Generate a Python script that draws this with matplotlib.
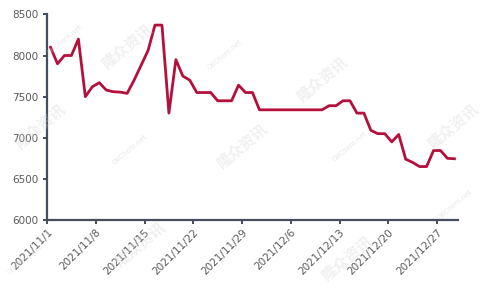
import matplotlib
matplotlib.use("Agg")
import matplotlib.pyplot as plt
import pandas as pd
import numpy as np

plt.rcParams['font.family'] = ['DejaVu Sans', 'Noto Sans CJK SC']

# daily prices, 2021/11/1 - 2021/12/29
start = "2021-11-01"
prices = [8100, 7900, 8000, 8000, 8200, 7500, 7620, 7670, 7580, 7560,
          7555, 7540, 7700, 7880, 8060, 8370, 8370, 7300, 7950, 7750,
          7700, 7550, 7550, 7550, 7450, 7450, 7450, 7640, 7550, 7550,
          7340, 7340, 7340, 7340, 7340, 7340, 7340, 7340, 7340, 7340,
          7390, 7390, 7450, 7450, 7300, 7300, 7090, 7050, 7050, 6950,
          7040, 6740, 6700, 6650, 6650, 6845, 6845, 6750, 6745]
tick_labels = ["2021/11/1", "2021/11/8", "2021/11/15", "2021/11/22",
               "2021/11/29", "2021/12/6", "2021/12/13", "2021/12/20",
               "2021/12/27"]
y_ticks = [6000, 6500, 7000, 7500, 8000, 8500]

days = pd.date_range(start, periods=len(prices), freq="D")
d0 = days[0]
# points sit in the middle of each day slot
x = np.array([(d - d0).days for d in days]) + 0.5

fig = plt.figure(figsize=(4.8, 2.88), dpi=100)
ax = fig.add_axes([0.098, 0.236, 0.856, 0.714])

# faint watermarks
wm = [(127, 45), (40, 125), (140, 243), (242, 145), (453, 125),
      (347, 257), (322, 78)]
for px, py in wm:
    fig.text(px / 480, 1 - py / 288, "隆众资讯", rotation=40, fontsize=11,
             fontweight="bold", color="#d4d4d4", alpha=0.35,
             ha="center", va="center", family=['Noto Sans CJK SC'])
for px, py in [(65, 40), (225, 55), (130, 150), (350, 147), (455, 205), (25, 260)]:
    fig.text(px / 480, 1 - py / 288, "OilChem.net", rotation=40, fontsize=5,
             color="#d0d0d0", alpha=0.5, ha="center", va="center")

ax.plot(x, prices, color="#B5103C", lw=2.0, solid_joinstyle="round", zorder=3)

ax.set_xlim(0, len(prices))
ax.set_ylim(6000, 8500)
ax.set_yticks(y_ticks)
ax.set_yticklabels([str(v) for v in y_ticks])
ax.set_xticks(np.arange(0, 7 * len(tick_labels), 7))
ax.set_xticklabels(tick_labels, rotation=45, ha="right", rotation_mode="anchor")

for s in ["top", "right"]:
    ax.spines[s].set_visible(False)
for s in ["left", "bottom"]:
    ax.spines[s].set_color("#454d5e")
    ax.spines[s].set_linewidth(1.6)
ax.tick_params(axis="both", colors="#454d5e", labelcolor="#595959",
               labelsize=7.5, length=3, width=1.4, direction="out")
ax.tick_params(axis="x", pad=2)

fig.savefig("out.png", dpi=100)
